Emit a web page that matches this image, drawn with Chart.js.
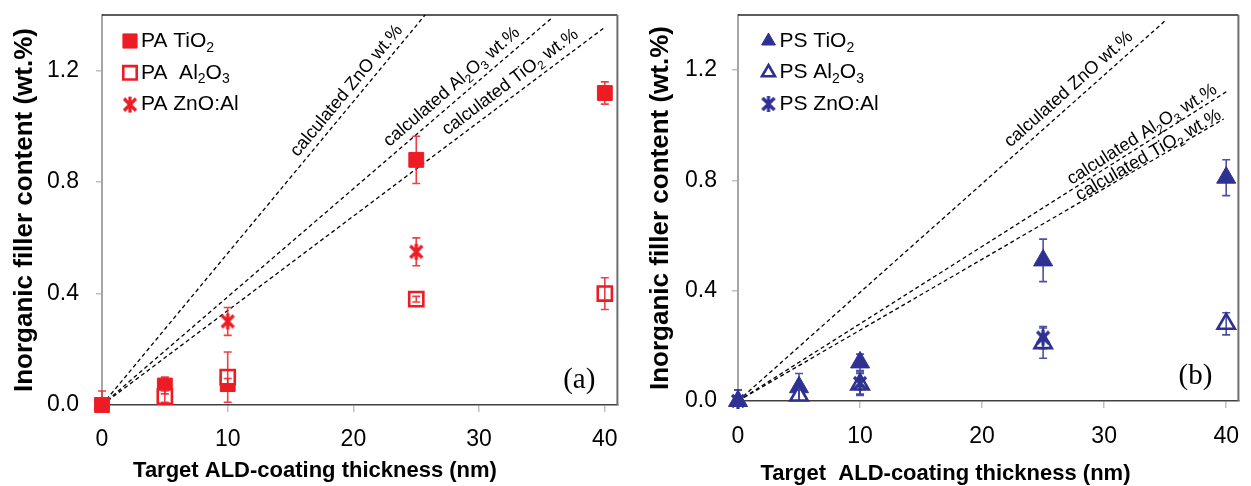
<!DOCTYPE html>
<html lang="en">
<head>
<meta charset="UTF-8">
<title>Inorganic filler content vs. ALD-coating thickness</title>
<script src="https://cdn.jsdelivr.net/npm/chart.js"></script>
<style>
  body { margin: 0; background: #fff; width: 1251px; height: 486px; overflow: hidden; position: relative; }
  canvas { position: absolute; top: 0; }
  #paChart { left: 0; }
  #psChart { left: 640px; }
</style>
</head>
<body>
<canvas id="paChart" width="630" height="486"></canvas>
<canvas id="psChart" width="611" height="486"></canvas>
<script>
// coating thickness (nm) and axis ticks
const thickness = [0, 5, 10, 25, 40];
const xTicks = [0, 10, 20, 30, 40];
const yTicks = [0, 0.4, 0.8, 1.2];

// PA films, wt.% and error
const paTiO2 = [0, 0.07, 0.075, 0.88, 1.12];
const paTiO2Err = [0.05, 0.03, 0.02, 0.085, 0.04];
const paAl2O3 = [null, 0.03, 0.10, 0.38, 0.40];
const paAl2O3Err = [null, 0.02, 0.09, 0.01, 0.057];
const paZnO = [null, null, 0.30, 0.55, null];
const paZnOErr = [null, null, 0.05, 0.05, null];

// PS films, wt.% and error
const psTiO2 = [0, 0.05, 0.14, 0.51, 0.81];
const psTiO2Err = [0.04, 0.05, 0.03, 0.077, 0.065];
const psAl2O3 = [null, 0.02, 0.06, 0.21, 0.28];
const psAl2O3Err = [null, 0.02, 0.04, 0.055, 0.04];
const psZnO = [0, null, 0.065, 0.23, null];
const psZnOErr = [0.04, null, 0.04, 0.04, null];

// calculated wt.% lines (start / end)
const paCalcX = { ZnO: [0, 25.7], Al2O3: [0, 35.8], TiO2: [0, 40.0] };
const paCalcY = { ZnO: [0, 1.40], Al2O3: [0, 1.39], TiO2: [0, 1.356] };
const psCalcX = { ZnO: [0, 35.1], Al2O3: [0, 40.1], TiO2: [0, 39.8] };
const psCalcY = { ZnO: [0, 1.383], Al2O3: [0, 1.124], TiO2: [0, 1.023] };

const RED = '#ed1c24';
const BLUE = '#2e3192';
const SANS = '"Liberation Sans", Arial, sans-serif';

// Excel-style star marker: an x with a vertical stroke
function starMarker(color) {
  const c = document.createElement('canvas');
  c.width = 18; c.height = 18;
  const g = c.getContext('2d');
  g.strokeStyle = color;
  g.lineWidth = 3.2;
  g.beginPath();
  g.moveTo(3, 3); g.lineTo(15, 15);
  g.moveTo(15, 3); g.lineTo(3, 15);
  g.moveTo(9, 1); g.lineTo(9, 17);
  g.stroke();
  return c;
}

// text with "_d" subscripts
function drawRich(ctx, str, x, y, size, align) {
  const parts = str.split(/(_\d)/).filter(Boolean)
    .map(s => s[0] === '_' ? { t: s.slice(1), sub: true } : { t: s, sub: false });
  const fN = size + 'px ' + SANS;
  const fS = Math.round(size * 0.68) + 'px ' + SANS;
  let w = 0;
  parts.forEach(p => { ctx.font = p.sub ? fS : fN; p.w = ctx.measureText(p.t).width; w += p.w; });
  let cx = align === 'center' ? x - w / 2 : x;
  ctx.textAlign = 'left';
  ctx.textBaseline = 'middle';
  parts.forEach(p => {
    ctx.font = p.sub ? fS : fN;
    ctx.fillText(p.t, cx, p.sub ? y + size * 0.32 : y);
    cx += p.w;
  });
}

function points(ys, errs) {
  const out = [];
  thickness.forEach((x, i) => { if (ys[i] !== null) out.push({ x: x, y: ys[i], err: errs[i] }); });
  return out;
}

function markers(label, pts, style, color, filled, radius, legendRadius, order) {
  return {
    label: label, legendText: label, data: pts, order: order, clip: false,
    pointStyle: style, pointRadius: radius, pointHoverRadius: radius, legendRadius: legendRadius,
    pointBackgroundColor: filled ? color : '#ffffff',
    pointBorderColor: color,
    pointBorderWidth: filled ? 1 : 2.6,
    backgroundColor: filled ? color : '#ffffff',
    borderColor: color,
    errColor: color
  };
}

function calcLine(xs, ys, text, at, offset) {
  return {
    data: xs.map((x, i) => ({ x: x, y: ys[i] })),
    showLine: true, pointRadius: 0, order: 10, clip: false,
    borderColor: '#000', borderWidth: 1.3, borderDash: [4, 3],
    labelText: text, labelAt: at, labelOffset: offset
  };
}

const errorBars = {
  id: 'errorBars',
  afterDatasetsDraw(chart) {
    const { ctx, chartArea: a } = chart;
    const ys = chart.scales.y;
    ctx.save();
    ctx.beginPath();
    ctx.rect(a.left - 20, a.top, a.right - a.left + 40, a.bottom - a.top);
    ctx.clip();
    chart.data.datasets.forEach((ds, di) => {
      if (!ds.errColor) return;
      chart.getDatasetMeta(di).data.forEach((pt, i) => {
        const d = ds.data[i];
        if (!d.err) return;
        const top = ys.getPixelForValue(d.y + d.err);
        const bot = ys.getPixelForValue(d.y - d.err);
        ctx.strokeStyle = ds.errColor;
        ctx.globalAlpha = 0.85;
        ctx.lineWidth = 1.6;
        ctx.beginPath();
        ctx.moveTo(pt.x, top); ctx.lineTo(pt.x, bot);
        ctx.moveTo(pt.x - 4, top); ctx.lineTo(pt.x + 4, top);
        ctx.moveTo(pt.x - 4, bot); ctx.lineTo(pt.x + 4, bot);
        ctx.stroke();
      });
    });
    ctx.restore();
  }
};

const plotFrame = {
  id: 'plotFrame',
  beforeDatasetsDraw(chart) {
    const { ctx, chartArea: a } = chart;
    ctx.save();
    ctx.lineWidth = 1.5;
    ctx.strokeStyle = '#262626';
    ctx.beginPath(); ctx.moveTo(a.left, a.top); ctx.lineTo(a.right, a.top); ctx.stroke();
    ctx.strokeStyle = '#6f6f6f';
    ctx.lineWidth = 2;
    ctx.beginPath(); ctx.moveTo(a.right, a.top); ctx.lineTo(a.right, a.bottom); ctx.stroke();
    ctx.restore();
  }
};

const lineLabels = {
  id: 'lineLabels',
  afterDatasetsDraw(chart) {
    const { ctx, scales: { x, y } } = chart;
    chart.data.datasets.forEach(ds => {
      if (!ds.labelText) return;
      const p = ds.data[0], q = ds.data[ds.data.length - 1];
      const x0 = x.getPixelForValue(p.x), y0 = y.getPixelForValue(p.y);
      const x1 = x.getPixelForValue(q.x), y1 = y.getPixelForValue(q.y);
      const ang = Math.atan2(y1 - y0, x1 - x0);
      const t = (ds.labelAt - p.x) / (q.x - p.x);
      const px = x0 + (x1 - x0) * t + Math.sin(ang) * ds.labelOffset;
      const py = y0 + (y1 - y0) * t - Math.cos(ang) * ds.labelOffset;
      ctx.save();
      ctx.translate(px, py);
      ctx.rotate(ang);
      ctx.fillStyle = '#000';
      drawRich(ctx, ds.labelText, 0, 0, 18, 'center');
      ctx.restore();
    });
  }
};

const legendBox = {
  id: 'legendBox',
  afterDraw(chart, args, opts) {
    const ctx = chart.ctx;
    let y = opts.y;
    chart.data.datasets.forEach(ds => {
      if (!ds.legendText) return;
      ctx.save();
      ctx.fillStyle = ds.pointBackgroundColor;
      ctx.strokeStyle = ds.pointBorderColor;
      ctx.lineWidth = ds.pointBorderWidth;
      Chart.helpers.drawPoint(ctx, {
        pointStyle: ds.pointStyle, radius: ds.legendRadius, rotation: 0, borderWidth: ds.pointBorderWidth
      }, opts.x, y);
      ctx.fillStyle = '#000';
      drawRich(ctx, ds.legendText, opts.x + opts.gap, y, 21, 'left');
      ctx.restore();
      y += opts.step;
    });
  }
};

const panelText = {
  id: 'panelText',
  afterDraw(chart, args, opts) {
    const { ctx, chartArea: a } = chart;
    ctx.save();
    ctx.fillStyle = '#000';
    ctx.textAlign = 'center';
    ctx.textBaseline = 'middle';
    ctx.font = 'bold 22px ' + SANS;
    ctx.fillText(opts.xTitle, chart.width / 2, opts.xTitleY);
    ctx.textAlign = 'right';
    ctx.font = '29px "Liberation Serif", "Times New Roman", serif';
    ctx.fillText(opts.tag, a.right - opts.tagRight, a.bottom - 25);
    ctx.restore();
  }
};

function panel(id, o) {
  return new Chart(document.getElementById(id), {
    type: 'scatter',
    data: { datasets: o.datasets },
    options: {
      responsive: false,
      animation: false,
      events: [],
      layout: { padding: { top: 15, right: o.padRight, left: 0, bottom: 0 } },
      plugins: {
        legend: { display: false },
        tooltip: { enabled: false },
        legendBox: o.legend,
        panelText: { xTitle: o.xTitle, xTitleY: o.xTitleY, tag: o.tag, tagRight: o.tagRight }
      },
      scales: {
        x: {
          type: 'linear', min: 0, max: 41,
          afterBuildTicks: s => { s.ticks = xTicks.map(v => ({ value: v })); },
          afterFit: s => { s.height = o.xHeight; s.paddingLeft = 0; s.paddingRight = 0; },
          border: { color: '#404040', width: 1.5 },
          grid: { drawOnChartArea: false, color: '#bfbfbf', lineWidth: 1.5, tickLength: 7 },
          ticks: { color: '#000', font: { family: SANS, size: 23 }, padding: o.xTickPad, callback: v => v }
        },
        y: {
          type: 'linear', min: 0, max: 1.4,
          afterBuildTicks: s => { s.ticks = yTicks.map(v => ({ value: v })); },
          afterFit: s => { s.width = o.yWidth; s.paddingTop = 0; s.paddingBottom = 0; },
          border: { color: '#a6a6a6', width: 2 },
          grid: { drawOnChartArea: false, color: '#bfbfbf', lineWidth: 1.5, tickLength: 6 },
          ticks: { color: '#000', font: { family: SANS, size: 23 }, padding: o.yTickPad, callback: v => v.toFixed(1) },
          title: {
            display: true, text: 'Inorganic filler content (wt.%)', color: '#000',
            font: { family: SANS, size: 26, weight: 'bold' }, padding: { top: o.yTitlePad, bottom: 0 }
          }
        }
      }
    },
    plugins: [plotFrame, errorBars, lineLabels, legendBox, panelText]
  });
}

const redStar = starMarker(RED);
const blueStar = starMarker(BLUE);

panel('paChart', {
  padRight: 8, xHeight: 81, yWidth: 102, xTickPad: 14, yTickPad: 17, yTitlePad: 9.5,
  xTitle: 'Target ALD-coating thickness (nm)', xTitleY: 471, tag: '(a)', tagRight: 22,
  legend: { x: 130, y: 41, step: 31.8, gap: 11 },
  datasets: [
    markers('PA TiO_2', points(paTiO2, paTiO2Err), 'rect', RED, true, 10.5, 10, 3),
    markers('PA  Al_2O_3', points(paAl2O3, paAl2O3Err), 'rect', RED, false, 10, 9.5, 2),
    markers('PA ZnO:Al', points(paZnO, paZnOErr), redStar, RED, true, 9, 9, 1),
    calcLine(paCalcX.ZnO, paCalcY.ZnO, 'calculated ZnO wt.%', 20.2, 12),
    calcLine(paCalcX.Al2O3, paCalcY.Al2O3, 'calculated Al_2O_3 wt.%', 28.5, 13),
    calcLine(paCalcX.TiO2, paCalcY.TiO2, 'calculated TiO_2 wt.%', 33.1, 13)
  ]
});

panel('psChart', {
  padRight: 5, xHeight: 85, yWidth: 98, xTickPad: 15, yTickPad: 15, yTitlePad: 5.5,
  xTitle: 'Target  ALD-coating thickness (nm)', xTitleY: 474, tag: '(b)', tagRight: 26,
  legend: { x: 128.5, y: 41, step: 31.5, gap: 11 },
  datasets: [
    markers('PS TiO_2', points(psTiO2, psTiO2Err), 'triangle', BLUE, true, 11, 8, 3),
    markers('PS Al_2O_3', points(psAl2O3, psAl2O3Err), 'triangle', BLUE, false, 10, 7.5, 2),
    markers('PS ZnO:Al', points(psZnO, psZnOErr), blueStar, BLUE, true, 9, 9, 1),
    calcLine(psCalcX.ZnO, psCalcY.ZnO, 'calculated ZnO wt.%', 27.8, 13),
    calcLine(psCalcX.Al2O3, psCalcY.Al2O3, 'calculated Al_2O_3 wt.%', 33.5, 9),
    calcLine(psCalcX.TiO2, psCalcY.TiO2, 'calculated TiO_2 wt.%', 33.9, 6.5)
  ]
});
</script>
</body>
</html>
